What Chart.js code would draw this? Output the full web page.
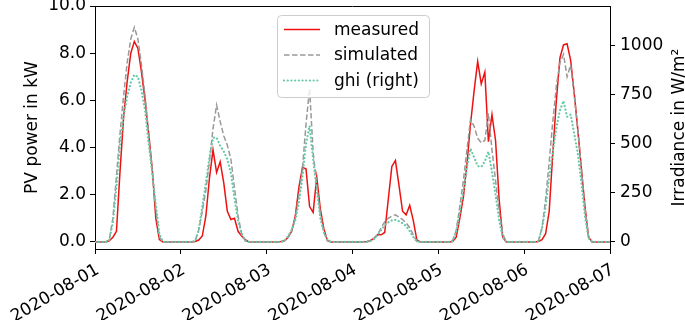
<!DOCTYPE html>
<html>
<head>
<meta charset="utf-8">
<script src="https://cdn.jsdelivr.net/npm/chart.js@4.4.1/dist/chart.umd.min.js"></script>
<style>
  html, body { margin: 0; padding: 0; background: #fff; }
</style>
</head>
<body>
<canvas id="pvChart" width="685" height="320"></canvas>
<script>
// Stundenwerte vom 01.08. 00:00 bis 07.08. 00:00, eine Zeile pro Tag

const dayLabels = ['2020-08-01', '2020-08-02', '2020-08-03', '2020-08-04', '2020-08-05', '2020-08-06', '2020-08-07'];
const dayTicks = [0, 24, 48, 72, 96, 120, 144]; // Stunden ab 01.08.
const leftTicks = [0, 2, 4, 6, 8, 10];
const rightTicks = [0, 250, 500, 750, 1000];

// PV-Leistung gemessen, kW
const measured = [
  0, 0, 0, 0, 0.05, 0.2, 0.45, 3.0, 5.3, 6.8, 8.0, 8.5, 8.2, 7.2, 6.0, 4.6, 3.1, 1.0, 0.1, 0, 0, 0, 0, 0,
  0, 0, 0, 0, 0.02, 0.08, 0.25, 1.1, 2.7, 3.9, 2.95, 3.4, 2.5, 1.3, 0.95, 1.0, 0.45, 0.25, 0.1, 0, 0, 0, 0, 0,
  0, 0, 0, 0, 0.02, 0.05, 0.2, 0.45, 1.1, 2.3, 3.15, 3.1, 1.5, 1.25, 2.75, 1.4, 0.55, 0.05, 0, 0, 0, 0, 0, 0,
  0, 0, 0, 0, 0.02, 0.05, 0.15, 0.3, 0.3, 0.4, 1.8, 3.2, 3.45, 2.4, 1.3, 1.15, 1.55, 0.9, 0.08, 0, 0, 0, 0, 0,
  0, 0, 0, 0, 0.02, 0.2, 1.0, 1.9, 3.3, 5.0, 6.4, 7.65, 6.7, 7.2, 4.25, 5.4, 4.3, 1.8, 0.2, 0, 0, 0, 0, 0,
  0, 0, 0, 0, 0.02, 0.1, 0.35, 1.3, 3.75, 6.0, 7.8, 8.35, 8.4, 7.7, 6.3, 4.75, 3.1, 1.5, 0.2, 0, 0, 0, 0, 0,
  0
];

// PV-Leistung simuliert, kW
const simulated = [
  0, 0, 0, 0, 0.1, 1.0, 2.8, 4.6, 6.2, 7.6, 8.6, 9.1, 8.6, 7.5, 6.2, 4.6, 3.0, 1.4, 0.2, 0, 0, 0, 0, 0,
  0, 0, 0, 0, 0.05, 0.5, 1.3, 2.2, 3.4, 4.8, 5.8, 5.1, 4.5, 4.1, 3.5, 2.3, 1.1, 0.35, 0.05, 0, 0, 0, 0, 0,
  0, 0, 0, 0, 0, 0.05, 0.2, 0.5, 1.0, 2.0, 3.1, 5.0, 6.5, 3.8, 2.4, 1.2, 0.4, 0.05, 0, 0, 0, 0, 0, 0,
  0, 0, 0, 0, 0, 0.05, 0.15, 0.3, 0.6, 0.85, 1.0, 1.1, 1.15, 1.05, 0.95, 0.8, 0.6, 0.3, 0.02, 0, 0, 0, 0, 0,
  0, 0, 0, 0, 0.05, 0.5, 1.5, 2.6, 3.9, 5.2, 4.9, 4.4, 4.2, 4.3, 5.45, 3.9, 2.6, 1.3, 0.35, 0, 0, 0, 0, 0,
  0, 0, 0, 0, 0.05, 0.6, 1.8, 3.4, 5.1, 6.6, 7.6, 7.95, 7.0, 7.5, 6.2, 4.8, 3.1, 1.4, 0.25, 0, 0, 0, 0, 0,
  0
];

// Globalstrahlung, W/m² (rechte Achse)
const ghi = [
  0, 0, 0, 0, 10, 100, 280, 500, 640, 740, 810, 850, 840, 770, 670, 500, 350, 190, 40, 0, 0, 0, 0, 0,
  0, 0, 0, 0, 5, 60, 180, 300, 430, 530, 530, 490, 460, 420, 350, 220, 110, 40, 5, 0, 0, 0, 0, 0,
  0, 0, 0, 0, 0, 5, 30, 60, 110, 200, 330, 500, 590, 420, 270, 120, 50, 10, 0, 0, 0, 0, 0, 0,
  0, 0, 0, 0, 0, 5, 15, 35, 60, 85, 100, 110, 112, 105, 95, 80, 55, 25, 3, 0, 0, 0, 0, 0,
  0, 0, 0, 0, 5, 50, 150, 260, 380, 475, 430, 386, 382, 410, 459, 357, 240, 110, 25, 0, 0, 0, 0, 0,
  0, 0, 0, 0, 5, 70, 180, 330, 460, 580, 670, 717, 637, 648, 550, 450, 300, 130, 20, 0, 0, 0, 0, 0,
  0
];

const hours = measured.map((_, i) => i);

Chart.defaults.font.family = "'DejaVu Sans', sans-serif";
Chart.defaults.font.size = 17;
Chart.defaults.color = '#000';

// Legende im Diagramm, obere Achsenlinie und rechte Achsenbeschriftung (von unten nach oben)
const extras = {
  id: 'extras',
  afterDraw(chart) {
    const { ctx, chartArea } = chart;
    ctx.save();

    ctx.strokeStyle = '#000';
    ctx.lineWidth = 1;
    ctx.beginPath();
    ctx.moveTo(chartArea.left, chartArea.top + 0.5);
    ctx.lineTo(chartArea.right, chartArea.top + 0.5);
    ctx.stroke();

    const bx = 277.5, by = 15.5, bw = 152, bh = 82;
    ctx.beginPath();
    ctx.roundRect(bx, by, bw, bh, 4);
    ctx.fillStyle = 'rgba(255,255,255,0.8)';
    ctx.fill();
    ctx.strokeStyle = '#cccccc';
    ctx.stroke();

    ctx.font = "17px 'DejaVu Sans'";
    ctx.textBaseline = 'middle';
    ctx.textAlign = 'left';
    chart.data.datasets.forEach((ds, i) => {
      const y = 29.5 + i * 25.5;
      ctx.beginPath();
      ctx.setLineDash(ds.borderDash || []);
      ctx.lineCap = ds.borderCapStyle || 'butt';
      ctx.strokeStyle = ds.borderColor;
      ctx.lineWidth = ds.borderWidth;
      ctx.moveTo(284, y);
      ctx.lineTo(320, y);
      ctx.stroke();
      ctx.setLineDash([]);
      ctx.fillStyle = '#000';
      ctx.fillText(ds.label, 334, y + 1);
    });

    ctx.translate(684, (chartArea.top + chartArea.bottom) / 2);
    ctx.rotate(-Math.PI / 2);
    ctx.textAlign = 'center';
    ctx.textBaseline = 'alphabetic';
    ctx.fillText('Irradiance in W/m²', 0, 0);
    ctx.restore();
  }
};

const axisLine = { drawOnChartArea: false, tickLength: 5, color: '#000' };

// feste Achsenbreiten, ohne Zusatzabstand für halbe Beschriftungshöhen
const fitWidth = w => s => { s.width = w; s.paddingTop = 0; s.paddingBottom = 0; };

new Chart(document.getElementById('pvChart'), {
  type: 'line',
  data: {
    labels: hours,
    datasets: [
      {
        label: 'measured',
        data: measured,
        yAxisID: 'y',
        borderColor: '#ee1111',
        borderWidth: 1.5,
        order: 3
      },
      {
        label: 'simulated',
        data: simulated,
        yAxisID: 'y',
        borderColor: '#999999',
        borderWidth: 1.5,
        borderDash: [5.5, 2.5],
        order: 2
      },
      {
        label: 'ghi (right)',
        data: ghi,
        yAxisID: 'y2',
        borderColor: '#66c9a8',
        borderWidth: 2.2,
        borderDash: [0.1, 3.6],
        borderCapStyle: 'round',
        order: 1
      }
    ]
  },
  options: {
    responsive: false,
    animation: false,
    devicePixelRatio: 1,
    layout: { padding: { top: 6, left: 0, right: 0, bottom: 0 } },
    elements: { point: { radius: 0 }, line: { tension: 0 } },
    plugins: { legend: { display: false }, tooltip: { enabled: false } },
    scales: {
      x: {
        type: 'linear',
        min: 0,
        max: 144,
        afterBuildTicks: s => { s.ticks = dayTicks.map(v => ({ value: v })); },
        afterFit: s => { s.height = 71; s.paddingLeft = 0; s.paddingRight = 0; },
        ticks: {
          autoSkip: false,
          minRotation: 30,
          maxRotation: 30,
          padding: 6,
          labelOffset: 3,
          callback: v => dayLabels[dayTicks.indexOf(v)]
        },
        grid: axisLine,
        border: { color: '#000' }
      },
      y: {
        position: 'left',
        min: -0.3,
        max: 10,
        afterBuildTicks: s => { s.ticks = leftTicks.map(v => ({ value: v })); },
        afterFit: fitWidth(95),
        ticks: { padding: 4, callback: v => v.toFixed(1) },
        grid: axisLine,
        border: { color: '#000' },
        title: { display: true, text: 'PV power in kW', padding: { top: 22, bottom: 0 } }
      },
      y2: {
        position: 'right',
        min: -36,
        max: 1200,
        afterBuildTicks: s => { s.ticks = rightTicks.map(v => ({ value: v })); },
        afterFit: fitWidth(75),
        ticks: { padding: 5, callback: v => String(v) },
        grid: axisLine,
        border: { color: '#000' }
      }
    }
  },
  plugins: [extras]
});
</script>
</body>
</html>
